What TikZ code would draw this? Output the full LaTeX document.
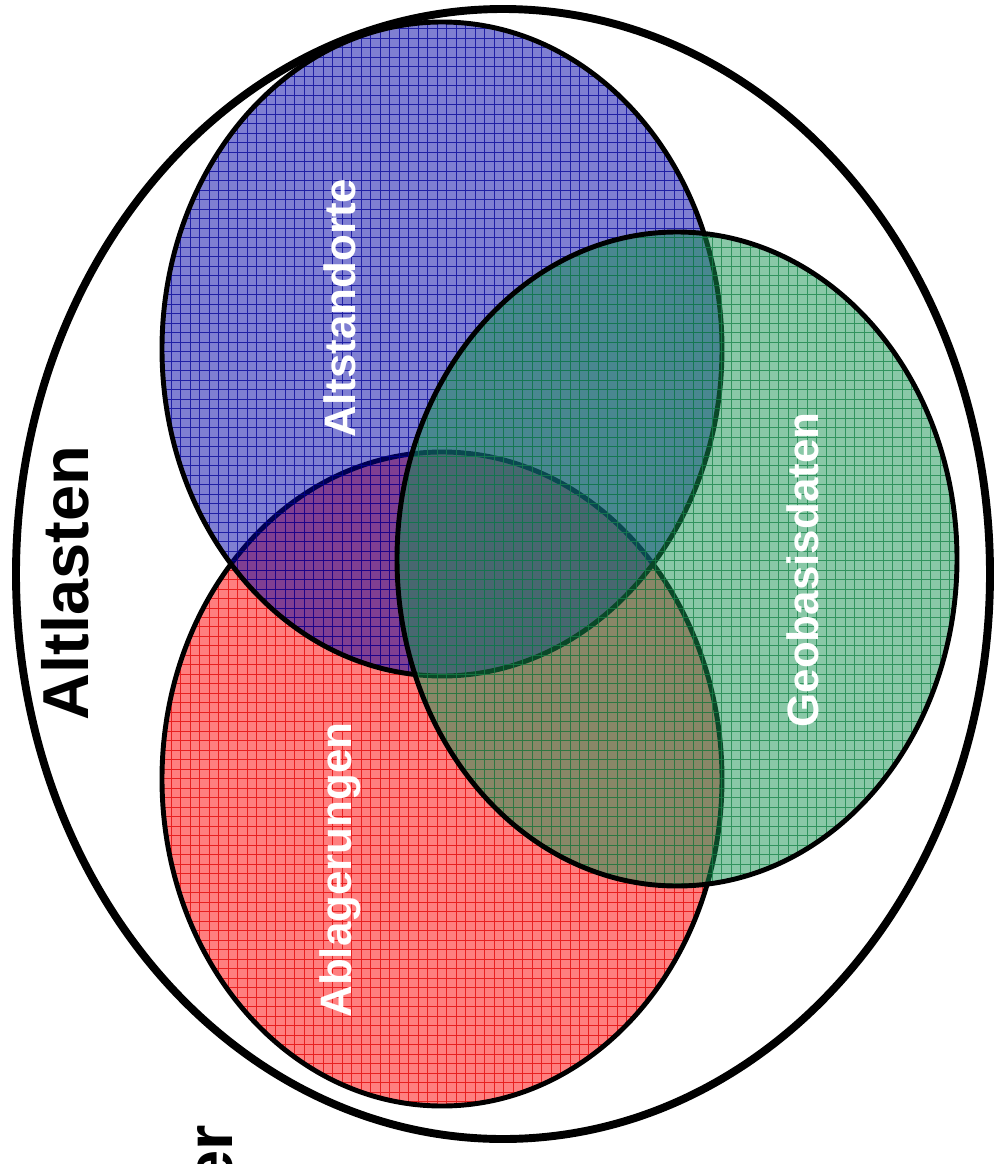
\documentclass[tikz,border=0pt]{standalone}
\usepackage{fontspec}
\setmainfont{Liberation Sans}
\definecolor{setred}{RGB}{255,0,0}
\definecolor{setblue}{RGB}{0,0,165}
\definecolor{setgreen}{RGB}{20,145,80}
\definecolor{gridred}{RGB}{225,0,0}
\definecolor{gridblue}{RGB}{0,0,150}
\definecolor{gridgreen}{RGB}{20,130,70}
\begin{document}
\begin{tikzpicture}[x=0.02cm,y=-0.02cm,
  setline/.style={line width=2.8pt},
  setgrid/.style={step=0.19cm,line width=0.45pt,draw opacity=.75},
  setlabel/.style={text=white,font=\fontsize{25}{30}\selectfont\bfseries,rotate=90},
  bigtext/.style={text=black,font=\fontsize{37}{44}\selectfont\bfseries,rotate=90}]
\useasboundingbox (0,0) rectangle (997,1164);

% outer set
\draw[line width=4.5pt] (503,574) ellipse [x radius=487,y radius=565];

% Ablagerungen
\begin{scope}
  \clip (442,779) ellipse [x radius=280,y radius=327];
  \fill[setred,fill opacity=.5] (150,440) rectangle (735,1120);
  \draw[gridred,setgrid] (150,440) grid (735,1120);
\end{scope}
\draw[setline] (442,779) ellipse [x radius=280,y radius=327];

% Altstandorte
\begin{scope}
  \clip (442,349) ellipse [x radius=280,y radius=327];
  \fill[setblue,fill opacity=.5] (150,10) rectangle (735,690);
  \draw[gridblue,setgrid] (150,10) grid (735,690);
\end{scope}
\draw[setline] (442,349) ellipse [x radius=280,y radius=327];

% Geobasisdaten
\begin{scope}
  \clip (677,559) ellipse [x radius=280,y radius=327];
  \fill[setgreen,fill opacity=.5] (385,220) rectangle (970,900);
  \draw[gridgreen,setgrid] (385,220) grid (970,900);
\end{scope}
\draw[setline] (677,559) ellipse [x radius=280,y radius=327];

\node(altst) at (340,308)[setlabel] {Altstandorte};
\node(ablag) at (340,870)[setlabel] {Ablagerungen};
\node(geoba) at (803,570)[setlabel] {Geobasisdaten};
\node(altla) at (65,583)[bigtext] {Altlasten};
\node(rest) at (232,1119)[bigtext,anchor=base east] {er};
\end{tikzpicture}
\end{document}
